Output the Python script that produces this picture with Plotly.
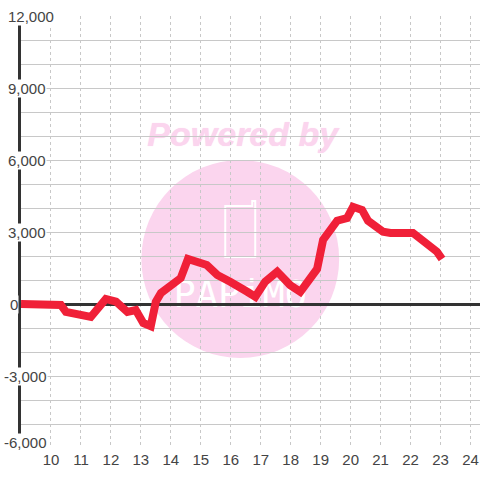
import plotly.graph_objects as go

hours = [9, 9.5, 10, 10.33, 10.5, 11, 11.33, 11.83, 12.17, 12.55, 12.83, 13.08, 13.33, 13.5, 13.67, 14.33,
         14.57, 15.2, 15.55, 15.98, 16.33, 16.55, 16.82, 17.15, 17.55, 17.98, 18.32, 18.88, 19.08, 19.55, 19.88,
         20.08, 20.38, 20.58, 21.08, 21.33, 22.08, 22.75, 22.88, 23.05]
values = [0, 0, 0, -40, -330, -420, -540, 210, 100, -330, -250, -790, -920, 100, 460, 1080,
          1875, 1625, 1210, 925, 620, 510, 300, 930, 1350, 790, 510, 1460, 2670, 3470, 3580,
          4050, 3920, 3470, 3010, 2960, 2960, 2290, 2180, 1875]
x_ticks = list(range(10, 25))
y_ticks = [12000, 9000, 6000, 3000, 0, -3000, -6000]
y_labels = ["12,000", "9,000", "6,000", "3,000", "0", "-3,000", "-6,000"]
label_left = [6, 6, 6, 6, 8, 2, 2]
label_shift = [0, 0, 0, 0, 0, 0, 6]

W = H = 480
L, R, T, B = 20.5, 0, 16, 32
PINK = "#fbd5ee"


def fx(v):
    return (v - L) / (W - L - R)


def fy(v):
    return 1 - (v - T) / (H - T - B)


def path(points):
    return "M " + " L ".join(f"{fx(a):.4f} {fy(b):.4f}" for a, b in points)


fig = go.Figure()
fig.add_trace(go.Scatter(x=hours, y=values, mode="lines", cliponaxis=False,
                         line=dict(color="#f02038", width=8, shape="linear"),
                         hoverinfo="skip", showlegend=False))

shapes = [
    dict(type="circle", xref="paper", yref="paper", layer="below",
         x0=fx(141), x1=fx(339), y0=fy(358), y1=fy(160), line_width=0, fillcolor=PINK),
    dict(type="rect", xref="paper", yref="paper", layer="below",
         x0=fx(140), x1=fx(345), y0=fy(149), y1=fy(113), line_width=0, fillcolor="rgba(0,0,0,0)",
         label=dict(text="<b><i>Powered by</i></b>", textposition="middle center",
                    font=dict(family="Liberation Sans", size=34, color=PINK,
                              shadow="0 0 1px #fbd5ee"))),
    dict(type="path", xref="paper", yref="paper", layer="below",
         path=path([(255, 208), (255, 257), (225, 257), (225, 206), (252, 206), (252, 201), (255, 201), (255, 208)]),
         line=dict(color="white", width=2), fillcolor="rgba(0,0,0,0)"),
    dict(type="rect", xref="paper", yref="paper", layer="below",
         x0=fx(170), x1=fx(310), y0=fy(310), y1=fy(272), line_width=0, fillcolor="rgba(0,0,0,0)",
         label=dict(text="PAPiMO", textposition="middle center",
                    font=dict(family="DejaVu Sans Mono", size=37, color="white"))),
]

annotations = []
for v, t, left, shift in zip(y_ticks, y_labels, label_left, label_shift):
    annotations.append(dict(x=fx(left), xref="paper", xanchor="left", y=v, yref="y", yanchor="middle",
                            yshift=shift, text=t, showarrow=False, bgcolor="white", borderpad=0,
                            font=dict(family="Liberation Sans", size=15, color="#444444")))

grid = "#c8c8c8"
fig.update_layout(
    width=W, height=H, autosize=False, margin=dict(l=L, r=R, t=T, b=B, pad=0),
    paper_bgcolor="white", plot_bgcolor="white", showlegend=False,
    shapes=shapes, annotations=annotations,
    font=dict(family="Liberation Sans", size=15, color="#444444"),
    xaxis=dict(range=[9, 9 + (W - L) / 30], tickvals=x_ticks, ticktext=[str(t) for t in x_ticks],
               showgrid=True, gridcolor=grid, gridwidth=1, griddash="3px,3px", zeroline=False,
               showline=False, ticks="", tickfont=dict(size=15, color="#444444"), ticklabelstandoff=1),
    yaxis=dict(range=[-6000, 12000], tick0=-6000, dtick=1000, showgrid=True, gridcolor=grid, gridwidth=1,
               zeroline=True, zerolinecolor="#333333", zerolinewidth=3, showticklabels=False,
               showline=True, linecolor="#333333", linewidth=3, ticks=""),
)
fig.write_html("out.html", config=dict(displayModeBar=False),
               post_script="document.documentElement.style.overflow='hidden';document.body.style.margin='0';")
